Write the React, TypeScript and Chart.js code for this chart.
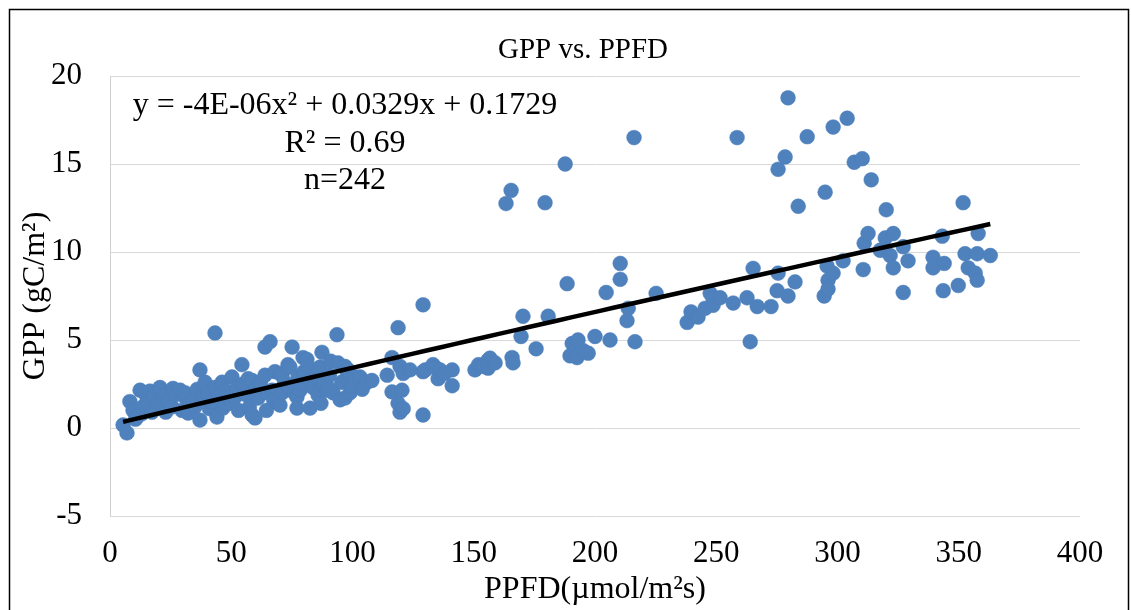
import React, { useEffect, useRef } from "react";
import { Chart, registerables } from "chart.js";

Chart.register(...registerables);

// PPFD (x) and GPP (y) readings, split by PPFD range
const ppfdA = [5.4, 7.0, 8.2, 9.5, 10.5, 11.1, 12.4, 13.0, 13.5, 14.5, 15.3, 15.7, 16.5, 17.3, 18.0, 19.8, 20.6, 21.5, 22.7, 23.0, 24.0, 25.6, 26.0, 27.0, 28.9, 29.7, 30.9, 31.0, 32.2, 33.0, 34.2, 35.0, 36.0, 37.1, 37.1, 38.0, 39.2, 39.2, 40.4, 41.0, 42.0, 43.3, 43.3, 44.1, 45.0, 46.2, 46.6, 47.4, 48.0, 49.0, 50.3, 50.3];
const gppA = [0.17, -0.28, 1.5, 1.0, 0.5, 0.62, 2.15, 0.8, 1.2, 2.0, 1.7, 1.4, 2.1, 0.9, 1.8, 1.47, 2.3, 1.6, 1.87, 0.9, 1.5, 1.2, 2.25, 1.9, 2.15, 1.0, 1.76, 2.0, 0.85, 1.4, 1.6, 1.2, 2.2, 3.3, 0.45, 1.9, 2.6, 1.6, 2.0, 1.1, 1.5, 5.4, 2.3, 0.62, 1.9, 2.6, 1.13, 1.4, 2.1, 1.7, 2.9, 1.4];

const ppfdB = [51.6, 52.5, 53.0, 54.4, 55.0, 56.0, 57.0, 57.5, 58.6, 58.6, 59.8, 60.0, 61.0, 62.0, 63.9, 63.9, 64.5, 65.0, 66.0, 66.8, 67.5, 68.0, 69.3, 70.1, 70.1, 70.9, 71.0, 72.0, 73.0, 73.4, 74.2, 74.2, 75.1, 76.0, 77.1, 77.1, 77.5, 78.4, 79.0, 79.6, 80.0, 81.2, 81.7, 82.5, 83.7, 84.0, 85.8, 85.8, 86.6, 87.0, 87.4, 88.0, 89.5, 89.9, 90.5, 91.0, 92.0, 93.6, 94.0, 94.9, 95.5, 96.9, 96.9, 97.8, 98.2, 99.0, 99.8];
const gppB = [1.76, 2.3, 1.0, 3.6, 2.5, 1.9, 2.8, 1.2, 2.7, 0.74, 0.57, 2.2, 1.7, 2.6, 3.0, 4.6, 1.0, 2.0, 4.9, 2.15, 1.6, 3.2, 1.4, 3.1, 1.3, 3.0, 2.0, 2.6, 2.4, 3.6, 3.46, 2.3, 4.6, 2.0, 1.76, 1.13, 2.9, 2.15, 2.5, 4.0, 3.2, 3.9, 3.5, 1.13, 2.3, 2.8, 2.8, 1.87, 3.46, 1.4, 4.3, 2.5, 2.15, 2.3, 3.0, 3.8, 2.0, 5.3, 3.7, 1.6, 2.6, 3.5, 1.7, 3.2, 3.3, 2.0, 2.4];

const ppfdC = [101.1, 103.1, 104.0, 106.0, 108.0, 114.3, 116.3, 116.3, 118.8, 118.8, 119.6, 119.6, 120.4, 120.9, 120.9, 123.7, 129.1, 129.1, 129.1, 130.0, 133.2, 134.5, 135.3, 136.1, 138.0, 141.1, 141.1, 150.5, 152.0, 153.8, 155.9, 155.9, 156.7, 158.8, 163.3, 165.4, 165.8, 166.2, 169.5, 170.3, 175.7, 179.4, 180.7, 187.7, 188.5, 189.7, 190.6, 192.6, 193.0, 195.1, 197.2, 200.0, 204.6, 206.2, 210.4, 210.4, 213.2, 213.7, 216.1, 216.5, 225.2];
const gppC = [2.9, 2.9, 2.2, 2.6, 2.7, 3.0, 4.0, 2.05, 5.7, 1.4, 3.5, 0.9, 2.15, 1.1, 3.1, 3.3, 7.0, 3.2, 0.74, 3.3, 3.6, 3.4, 2.8, 3.3, 3.1, 3.3, 2.4, 3.3, 3.6, 3.5, 3.4, 3.85, 3.97, 3.7, 12.75, 13.5, 4.0, 3.7, 5.2, 6.35, 4.5, 12.8, 6.35, 15.0, 8.2, 4.1, 4.8, 4.0, 5.0, 4.4, 4.25, 5.2, 7.7, 5.0, 9.35, 8.45, 6.1, 6.8, 16.5, 4.9, 7.65];

const ppfdD = [238.0, 239.6, 242.5, 245.4, 247.5, 248.7, 248.7, 251.6, 257.0, 258.6, 262.7, 264.0, 265.2, 266.9, 272.6, 275.1, 275.5, 275.5, 278.4, 279.6, 279.6, 282.5, 283.8, 287.5, 294.5, 294.9, 295.7, 296.1, 296.1, 298.2, 298.2, 302.3, 304.0, 306.9, 310.2, 310.6, 311.0, 312.6, 313.9, 317.6, 319.7, 320.1, 321.7, 323.0, 323.0, 327.1, 327.1, 329.1, 339.4, 339.4, 343.2, 343.6, 344.0, 349.8, 351.8, 352.6, 353.9, 356.8, 357.6, 357.6, 358.0, 363.0];
const gppD = [6.0, 6.6, 6.3, 6.8, 7.65, 7.35, 6.97, 7.4, 7.1, 16.5, 7.4, 4.9, 9.07, 6.9, 6.9, 7.8, 8.8, 14.7, 15.4, 18.76, 7.5, 8.3, 12.6, 16.55, 7.5, 13.4, 9.2, 8.4, 7.9, 17.1, 8.8, 9.5, 17.6, 15.1, 15.3, 9.0, 10.5, 11.05, 14.1, 10.1, 10.8, 12.4, 9.8, 11.05, 9.1, 10.3, 7.7, 9.5, 9.7, 9.1, 10.9, 7.8, 9.35, 8.1, 12.8, 9.9, 9.1, 8.8, 9.9, 8.4, 11.05, 9.8];

// Polynomial trendline as printed on the chart: a*x^2 + b*x + c
const trendCoefficients = [-4e-6, 0.0329, 0.1729];
const trendRange = [5.4, 363.0];

const equationLines = ["y = -4E-06x² + 0.0329x + 0.1729", "R² = 0.69", "n=242"];
const chartTitle = "GPP vs. PPFD";
const xTitle = "PPFD(µmol/m²s)";
const yTitle = "GPP (gC/m²)";
const xTicks = { min: 0, max: 400, step: 50 };
const yTicks = { min: -5, max: 20, step: 5 };

const FONT = "'Liberation Serif', 'Times New Roman', serif";

export default function App() {
  const ref = useRef<HTMLCanvasElement>(null);

  useEffect(() => {
    const xs = [...ppfdA, ...ppfdB, ...ppfdC, ...ppfdD];
    const ys = [...gppA, ...gppB, ...gppC, ...gppD];
    const points = xs.map((x, i) => ({ x, y: ys[i] }));

    const [a, b, c] = trendCoefficients;
    const trend: { x: number; y: number }[] = [];
    const n = 60;
    for (let i = 0; i <= n; i++) {
      const x = trendRange[0] + ((trendRange[1] - trendRange[0]) * i) / n;
      trend.push({ x, y: a * x * x + b * x + c });
    }

    const framePlugin = {
      id: "frame",
      beforeDraw(chart: any) {
        const ctx = chart.ctx;
        ctx.save();
        ctx.fillStyle = "#ffffff";
        ctx.fillRect(0, 0, chart.width, chart.height);
        ctx.restore();
      },
      afterDraw(chart: any) {
        const ctx = chart.ctx;
        ctx.save();
        ctx.strokeStyle = "#000000";
        ctx.lineWidth = 1.5;
        ctx.strokeRect(9.5, 9.5, 1119, 700);
        ctx.fillStyle = "#000000";
        ctx.font = `29px ${FONT}`;
        ctx.textAlign = "center";
        ctx.textBaseline = "middle";
        ctx.fillText(chartTitle, 583, 50);
        ctx.restore();
      },
    };

    const equationPlugin = {
      id: "equation",
      afterDatasetsDraw(chart: any) {
        const ctx = chart.ctx;
        const area = chart.chartArea;
        ctx.save();
        ctx.fillStyle = "#000000";
        ctx.font = `32px ${FONT}`;
        ctx.textAlign = "center";
        ctx.textBaseline = "middle";
        const cx = area.left + 235;
        equationLines.forEach((line, i) => {
          ctx.fillText(line, cx, area.top + 30 + i * 37.5);
        });
        ctx.restore();
      },
    };

    const chart = new Chart(ref.current as HTMLCanvasElement, {
      type: "scatter",
      data: {
        datasets: [
          {
            type: "line",
            data: trend,
            borderColor: "#000000",
            borderWidth: 4.5,
            pointRadius: 0,
            fill: false,
            tension: 0,
            order: 0,
          } as any,
          {
            data: points,
            backgroundColor: "#4f81bd",
            borderColor: "#4a7ebb",
            borderWidth: 0.5,
            pointRadius: 7.4,
            order: 1,
          },
        ],
      },
      options: {
        responsive: false,
        animation: false,
        events: [],
        layout: { padding: { top: 76, left: 0, right: 51, bottom: 0 } },
        plugins: {
          legend: { display: false },
          tooltip: { enabled: false },
          title: { display: false },
        },
        scales: {
          x: {
            type: "linear",
            min: xTicks.min,
            max: xTicks.max,
            afterFit(scale: any) {
              scale.height = 94;
            },
            grid: { display: false, drawTicks: false },
            border: { display: false },
            ticks: {
              stepSize: xTicks.step,
              color: "#000000",
              font: { family: FONT, size: 31 },
              padding: 19,
              maxRotation: 0,
            },
            title: {
              display: true,
              text: xTitle,
              color: "#000000",
              font: { family: FONT, size: 32 },
              padding: { top: 0, bottom: 1 },
            },
          },
          y: {
            type: "linear",
            min: yTicks.min,
            max: yTicks.max,
            afterFit(scale: any) {
              scale.width = 110;
            },
            grid: { color: "#d9d9d9", lineWidth: 1, drawTicks: false },
            border: { display: true, color: "#d0d0d0", width: 1 },
            ticks: {
              stepSize: yTicks.step,
              color: "#000000",
              font: { family: FONT, size: 31 },
              padding: 28,
            },
            title: {
              display: true,
              text: yTitle,
              color: "#000000",
              font: { family: FONT, size: 32 },
              padding: { top: 16, bottom: 0 },
            },
          },
        },
      },
      plugins: [framePlugin, equationPlugin],
    });

    return () => chart.destroy();
  }, []);

  return (
    <div style={{ position: "absolute", left: 0, top: 0, width: 1131, height: 610, background: "#ffffff", overflow: "hidden" }}>
      <canvas ref={ref} width={1131} height={610} style={{ display: "block", width: 1131, height: 610 }} />
    </div>
  );
}
